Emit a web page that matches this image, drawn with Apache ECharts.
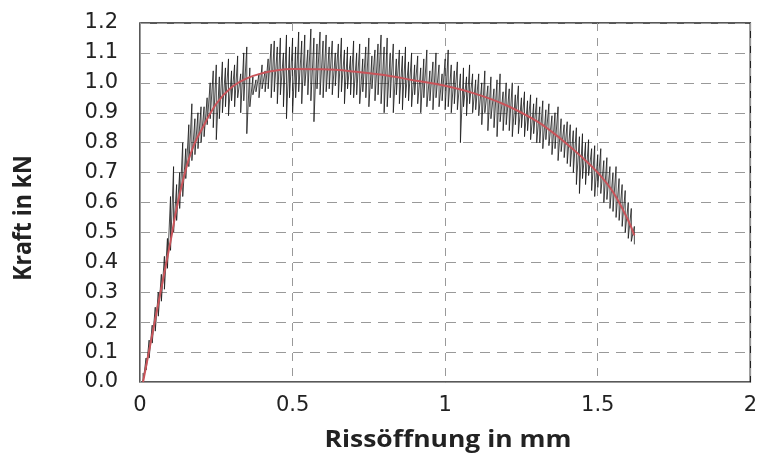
<!DOCTYPE html>
<html>
<head>
<meta charset="utf-8">
<script src="https://cdn.jsdelivr.net/npm/echarts@6/dist/echarts.min.js"></script>
<style>
html,body{margin:0;padding:0;background:#fff;}
#c{width:760px;height:461px;}
</style>
</head>
<body>
<div id="c"></div>
<script>
// Messdaten (Rissöffnung in mm) – je Stelle ein oberer und ein unterer Ausschlag
const rissMess = [
  0.01,0.02,0.03,0.04,0.05,0.06,0.07,0.08,0.09,0.10,
  0.11,0.12,0.13,0.14,0.15,0.16,0.17,0.18,0.19,0.20,
  0.21,0.22,0.23,0.24,0.25,0.26,0.27,0.28,0.29,0.30,
  0.31,0.32,0.33,0.34,0.35,0.36,0.37,0.38,0.39,0.40,
  0.41,0.42,0.43,0.44,0.45,0.46,0.47,0.48,0.49,0.50,
  0.51,0.52,0.53,0.54,0.55,0.56,0.57,0.58,0.59,0.60,
  0.61,0.62,0.63,0.64,0.65,0.66,0.67,0.68,0.69,0.70,
  0.71,0.72,0.73,0.74,0.75,0.76,0.77,0.78,0.79,0.80,
  0.81,0.82,0.83,0.84,0.85,0.86,0.87,0.88,0.89,0.90,
  0.91,0.92,0.93,0.94,0.95,0.96,0.97,0.98,0.99,1.00,
  1.01,1.02,1.03,1.04,1.05,1.06,1.07,1.08,1.09,1.10,
  1.11,1.12,1.13,1.14,1.15,1.16,1.17,1.18,1.19,1.20,
  1.21,1.22,1.23,1.24,1.25,1.26,1.27,1.28,1.29,1.30,
  1.31,1.32,1.33,1.34,1.35,1.36,1.37,1.38,1.39,1.40,
  1.41,1.42,1.43,1.44,1.45,1.46,1.47,1.48,1.49,1.50,
  1.51,1.52,1.53,1.54,1.55,1.56,1.57,1.58,1.59,1.60,
  1.61,1.62
];
const kraftHoch = [
  0.03,0.08,0.14,0.19,0.25,0.30,0.36,0.42,0.48,0.62,
  0.72,0.66,0.70,0.80,0.78,0.86,0.93,0.88,0.90,0.92,
  0.92,0.95,1.00,1.04,1.06,1.02,1.07,1.05,1.08,1.04,
  1.06,1.09,1.03,1.10,1.12,1.05,1.02,1.01,1.03,1.06,
  1.04,1.08,1.13,1.14,1.12,1.15,1.10,1.16,1.12,1.15,
  1.12,1.17,1.14,1.16,1.11,1.18,1.15,1.13,1.17,1.14,
  1.16,1.12,1.14,1.10,1.13,1.15,1.11,1.12,1.09,1.14,
  1.10,1.13,1.08,1.12,1.15,1.09,1.11,1.13,1.16,1.12,
  1.15,1.10,1.13,1.08,1.11,1.09,1.12,1.07,1.10,1.06,
  1.09,1.05,1.08,1.11,1.04,1.07,1.10,1.06,1.03,1.08,
  1.11,1.06,1.04,1.07,1.03,1.05,1.02,1.06,1.03,1.01,
  1.03,1.00,1.04,0.99,1.02,0.98,1.01,1.03,0.97,1.00,
  0.98,1.00,0.96,0.99,0.95,0.97,0.94,0.96,0.93,0.95,
  0.92,0.94,0.91,0.93,0.89,0.90,0.92,0.88,0.86,0.87,
  0.86,0.84,0.85,0.82,0.83,0.80,0.81,0.78,0.79,0.76,
  0.78,0.74,0.75,0.72,0.70,0.72,0.68,0.66,0.64,0.60,
  0.58,0.52
];
const kraftTief = [
  0.00,0.04,0.08,0.13,0.17,0.22,0.27,0.31,0.38,0.44,
  0.50,0.54,0.58,0.62,0.68,0.72,0.74,0.76,0.78,0.80,
  0.82,0.86,0.88,0.85,0.81,0.88,0.90,0.92,0.89,0.94,
  0.92,0.95,0.90,0.94,0.83,0.92,0.96,0.97,0.95,0.98,
  0.97,0.98,0.95,0.97,0.93,0.96,0.92,0.88,0.95,0.90,
  0.95,0.97,0.93,0.99,0.96,0.94,0.87,0.98,0.96,0.95,
  0.97,0.98,0.96,0.99,0.95,0.97,0.93,0.98,0.96,0.95,
  0.96,0.93,0.97,0.95,0.92,0.98,0.94,0.96,0.93,0.90,
  0.92,0.95,0.90,0.96,0.93,0.91,0.95,0.94,0.92,0.96,
  0.93,0.90,0.95,0.92,0.94,0.91,0.95,0.92,0.94,0.91,
  0.92,0.90,0.93,0.91,0.80,0.92,0.89,0.93,0.90,0.91,
  0.89,0.86,0.90,0.84,0.88,0.85,0.82,0.87,0.84,0.86,
  0.84,0.82,0.86,0.83,0.85,0.82,0.84,0.81,0.83,0.80,
  0.80,0.78,0.81,0.79,0.76,0.78,0.74,0.77,0.75,0.73,
  0.72,0.70,0.66,0.63,0.68,0.66,0.69,0.64,0.62,0.65,
  0.63,0.60,0.61,0.58,0.57,0.55,0.54,0.52,0.50,0.48,
  0.47,0.46
];
// Ausgleichskurve (rot)
const rissFit = [0.01,0.05,0.10,0.12,0.14,0.16,0.18,0.20,0.25,0.30,0.35,0.40,0.45,0.50,0.60,0.70,0.80,0.90,1.00,1.10,1.20,1.30,1.35,1.40,1.45,1.50,1.55,1.60,1.62];
const kraftFit = [0.00,0.21,0.47,0.58,0.67,0.745,0.80,0.84,0.93,0.985,1.015,1.032,1.042,1.046,1.045,1.038,1.026,1.008,0.99,0.963,0.925,0.872,0.836,0.795,0.75,0.70,0.635,0.54,0.49];
const xTicks = ['0','0.5','1','1.5','2'];
const yMin = 0, yMax = 1.2, yStep = 0.1;

const messData = [];
for (let i = 0; i < rissMess.length; i++) {
  messData.push([rissMess[i], kraftHoch[i]]);
  messData.push([rissMess[i], kraftTief[i]]);
}
const fitData = rissFit.map((x, i) => [x, kraftFit[i]]);

const chart = echarts.init(document.getElementById('c'), null, {renderer: 'canvas'});
const tickFont = '"DejaVu Sans", sans-serif';
const titleFont = '"Open Sans", "Noto Sans", sans-serif';
chart.setOption({
  animation: false,
  backgroundColor: '#fff',
  grid: {left: 140, right: 8, top: 23, bottom: 79, show: true, borderColor: '#222', borderWidth: 1.5, backgroundColor: 'transparent'},
  xAxis: {
    type: 'value', min: 0, max: 2, interval: 0.5,
    axisLine: {show: true, onZero: false, lineStyle: {color: '#999', width: 1}},
    axisTick: {show: false},
    splitLine: {show: true, lineStyle: {color: '#999', type: [8, 7], width: 1}},
    axisLabel: {color: '#222', fontSize: 21, fontFamily: tickFont, margin: 13,
      formatter: v => xTicks[Math.round(v / 0.5)]}
  },
  yAxis: {
    type: 'value', min: yMin, max: yMax, interval: yStep,
    axisLine: {show: true, lineStyle: {color: '#999', width: 1}},
    axisTick: {show: true, inside: true, length: 6, lineStyle: {color: '#999'}},
    splitLine: {show: true, lineStyle: {color: '#999', type: [10, 7], width: 1}},
    axisLabel: {color: '#222', fontSize: 21, fontFamily: tickFont, margin: 22,
      formatter: v => v.toFixed(1)}
  },
  graphic: [
    {type: 'text', x: 24, y: 218, rotation: Math.PI / 2, scaleY: 1.12,
      style: {text: 'Kraft in kN', font: 'bold 23px ' + titleFont, fill: '#222', textAlign: 'center', textVerticalAlign: 'middle'}},
    {type: 'text', x: 448, y: 440, scaleX: 1.15,
      style: {text: 'Rissöffnung in mm', font: 'bold 23px ' + titleFont, fill: '#222', textAlign: 'center', textVerticalAlign: 'middle'}}
  ],
  series: [
    {type: 'line', data: messData, showSymbol: false, symbol: 'none',
      lineStyle: {color: '#111', width: 0.9, opacity: 0.85}, z: 2},
    {type: 'line', data: fitData, smooth: 0.4, showSymbol: false, symbol: 'none',
      lineStyle: {color: '#c9545a', width: 2}, z: 3}
  ]
});
</script>
</body>
</html>
